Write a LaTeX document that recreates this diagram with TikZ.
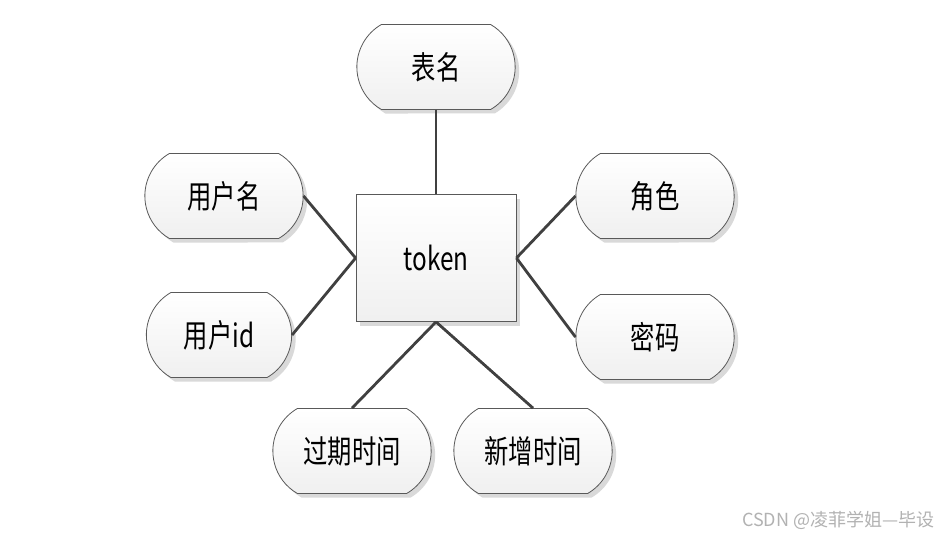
\documentclass[tikz,border=0pt]{standalone}
\usepackage{fontspec}
\newfontfamily\cjk[FakeStretch=0.76]{Noto Sans CJK SC}
\newfontfamily\cjkmark{Noto Sans CJK SC}
\usetikzlibrary{shapes.misc, shadows, positioning}
\tikzset{
    attr/.style={rounded rectangle, rounded rectangle arc length=120,
        minimum width=165pt, minimum height=85pt, draw=black!65, line width=0.8pt,
        top color=white, bottom color=black!6,
        drop shadow={shadow xshift=4pt, shadow yshift=-4pt, fill=black!15, opacity=1},
        font=\cjk\fontsize{32}{36}\selectfont},
    entity/.style={rectangle, minimum width=160pt, minimum height=127pt,
        draw=black!65, line width=0.8pt, top color=white, bottom color=black!6,
        drop shadow={shadow xshift=4pt, shadow yshift=-4pt, fill=black!15, opacity=1},
        font=\cjk\fontsize{32}{36}\selectfont},
    link/.style={draw=black!75, line width=2.8pt}
}
\begin{document}
\begin{tikzpicture}[x=1pt, y=-1pt]
    \useasboundingbox[fill=white] (0,0) rectangle (941,535);

    \node[entity] (tok) at (436,258) {token};
    \node[attr] (bm)  at (436,67)  {表名};
    \node[attr] (yhm) at (224,196) {用户名};
    \node[attr, minimum width=152pt] (yid) at (219,335) {用户id};
    \node[attr] (js)  at (655,196) {角色};
    \node[attr] (mm)  at (655,337) {密码};
    \node[attr] (gq)  at (352,451) {过期时间};
    \node[attr] (xz)  at (533,451) {新增时间};

    \path[link] (bm.south) edge (tok.north)
                (yhm.east) edge (tok.west)
                (yid.east) edge (tok.west)
                (js.west)  edge (tok.east)
                (mm.west)  edge (tok.east)
                (gq.north) edge (tok.south)
                (xz.north) edge (tok.south);

    \node[anchor=east, text=black!30, font=\cjkmark\fontsize{18}{20}\selectfont] (wm) at (938,520) {CSDN @凌菲学姐—毕设};
\end{tikzpicture}
\end{document}
